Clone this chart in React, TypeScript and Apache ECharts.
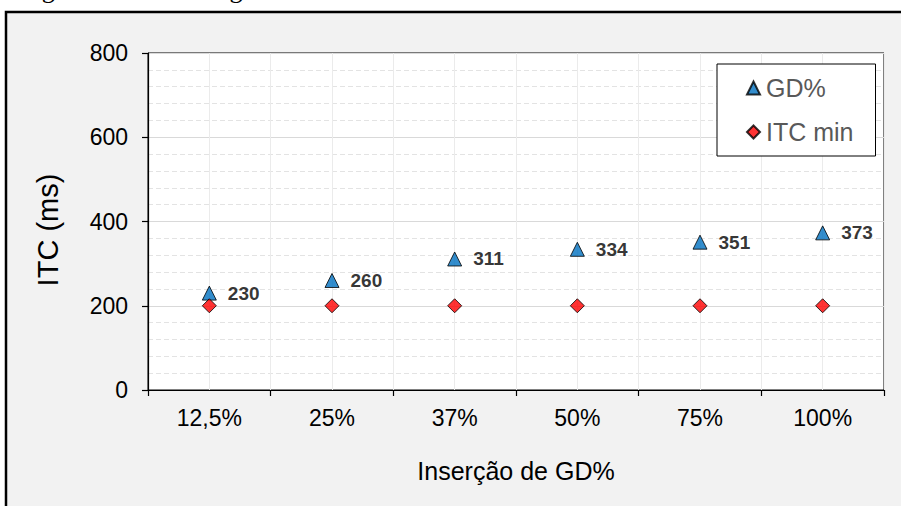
import React, { useEffect, useRef } from "react";
import * as echarts from "echarts";

const categories = ["12,5%", "25%", "37%", "50%", "75%", "100%"];
const gdValues = [230, 260, 311, 334, 351, 373];
const itcMinValues = [200, 200, 200, 200, 200, 200];
const halfSlots = ["", "", "", "", "", "", "", "", "", "", "", ""];

const FONT = "'Liberation Sans', Arial, sans-serif";

export default function App() {
  const ref = useRef<HTMLDivElement>(null);
  useEffect(() => {
    document.body.style.margin = "0";
    const chart = echarts.init(ref.current!, null, { renderer: "svg" });
    chart.setOption({
      animation: false,
      backgroundColor: "#ffffff",
      textStyle: { fontFamily: FONT },
      graphic: [
        {
          type: "rect",
          z: -10,
          shape: { x: 6, y: 12, width: 1000, height: 600 },
          style: { fill: "#f2f2f2", stroke: "#000", lineWidth: 2.5 },
        },
        {
          type: "text",
          left: 20,
          top: -24,
          style: {
            text: "Figura 23 – ITC religador fusível com e sem GD – Estudo de Caso 1.",
            font: "26px 'Liberation Serif', 'Times New Roman', serif",
            fill: "#000",
          },
        },
        {
          type: "text",
          x: 48,
          y: 230,
          rotation: Math.PI / 2,
          style: {
            text: "ITC (ms)",
            font: `29px ${FONT}`,
            fill: "#000",
            align: "center",
            verticalAlign: "middle",
          },
        },
        {
          type: "text",
          x: 516,
          y: 471,
          style: {
            text: "Inserção de GD%",
            font: `25px ${FONT}`,
            fill: "#000",
            align: "center",
            verticalAlign: "middle",
          },
        },
      ],
      grid: {
        left: 148,
        top: 53,
        right: 17,
        bottom: 116,
        show: true,
        backgroundColor: "#ffffff",
        borderColor: "#000",
        borderWidth: 1,
      },
      legend: {
        orient: "vertical",
        left: 717,
        top: 64,
        padding: [11, 22, 11, 29],
        itemGap: 18,
        itemWidth: 13,
        itemHeight: 13,
        backgroundColor: "#ffffff",
        borderColor: "#000",
        borderWidth: 1,
        textStyle: { fontSize: 25, color: "#595959", fontFamily: FONT, lineHeight: 26, padding: [0, 0, 0, 1] },
        data: ["GD%", "ITC min"],
      },
      xAxis: [
        {
          type: "category",
          data: categories,
          boundaryGap: true,
          axisLine: { lineStyle: { color: "#000", width: 1.2 } },
          axisTick: { show: true, length: 6, lineStyle: { color: "#000", width: 1.2 } },
          axisLabel: { fontSize: 23, color: "#000", margin: 16, fontFamily: FONT },
          splitLine: { show: false },
        },
        {
          type: "category",
          data: halfSlots,
          boundaryGap: true,
          position: "top",
          axisLine: { show: false },
          axisTick: { show: false },
          axisLabel: { show: false },
          splitLine: { show: true, interval: 0, lineStyle: { color: "#ebebeb", width: 1 } },
        },
      ],
      yAxis: {
        type: "value",
        min: 0,
        max: 800,
        interval: 200,
        axisLine: { show: true, lineStyle: { color: "#000", width: 1.2 } },
        axisTick: { show: true, length: 6, lineStyle: { color: "#000", width: 1.2 } },
        axisLabel: { fontSize: 23, color: "#000", margin: 20, fontFamily: FONT },
        splitLine: { show: true, lineStyle: { color: "#d9d9d9", width: 1 } },
        minorTick: { show: false, splitNumber: 5 },
        minorSplitLine: { show: true, lineStyle: { color: "#e3e3e3", type: [5, 3], width: 1 } },
      },
      series: [
        {
          name: "GD%",
          type: "scatter",
          data: gdValues,
          symbol: "triangle",
          symbolSize: 14,
          itemStyle: { color: "#0070c0", borderColor: "#000", borderWidth: 1 },
          label: {
            show: true,
            position: "right",
            distance: 11,
            fontSize: 19,
            fontWeight: "bold",
            color: "#000",
            fontFamily: FONT,
          },
          z: 3,
        },
        {
          name: "ITC min",
          type: "scatter",
          data: itcMinValues,
          symbol: "diamond",
          symbolSize: 14,
          itemStyle: { color: "#ff0000", borderColor: "#000", borderWidth: 1 },
          z: 4,
        },
      ],
    });
    return () => chart.dispose();
  }, []);
  return (
    <div
      ref={ref}
      style={{ position: "fixed", left: 0, top: 0, width: 901, height: 506 }}
    />
  );
}
